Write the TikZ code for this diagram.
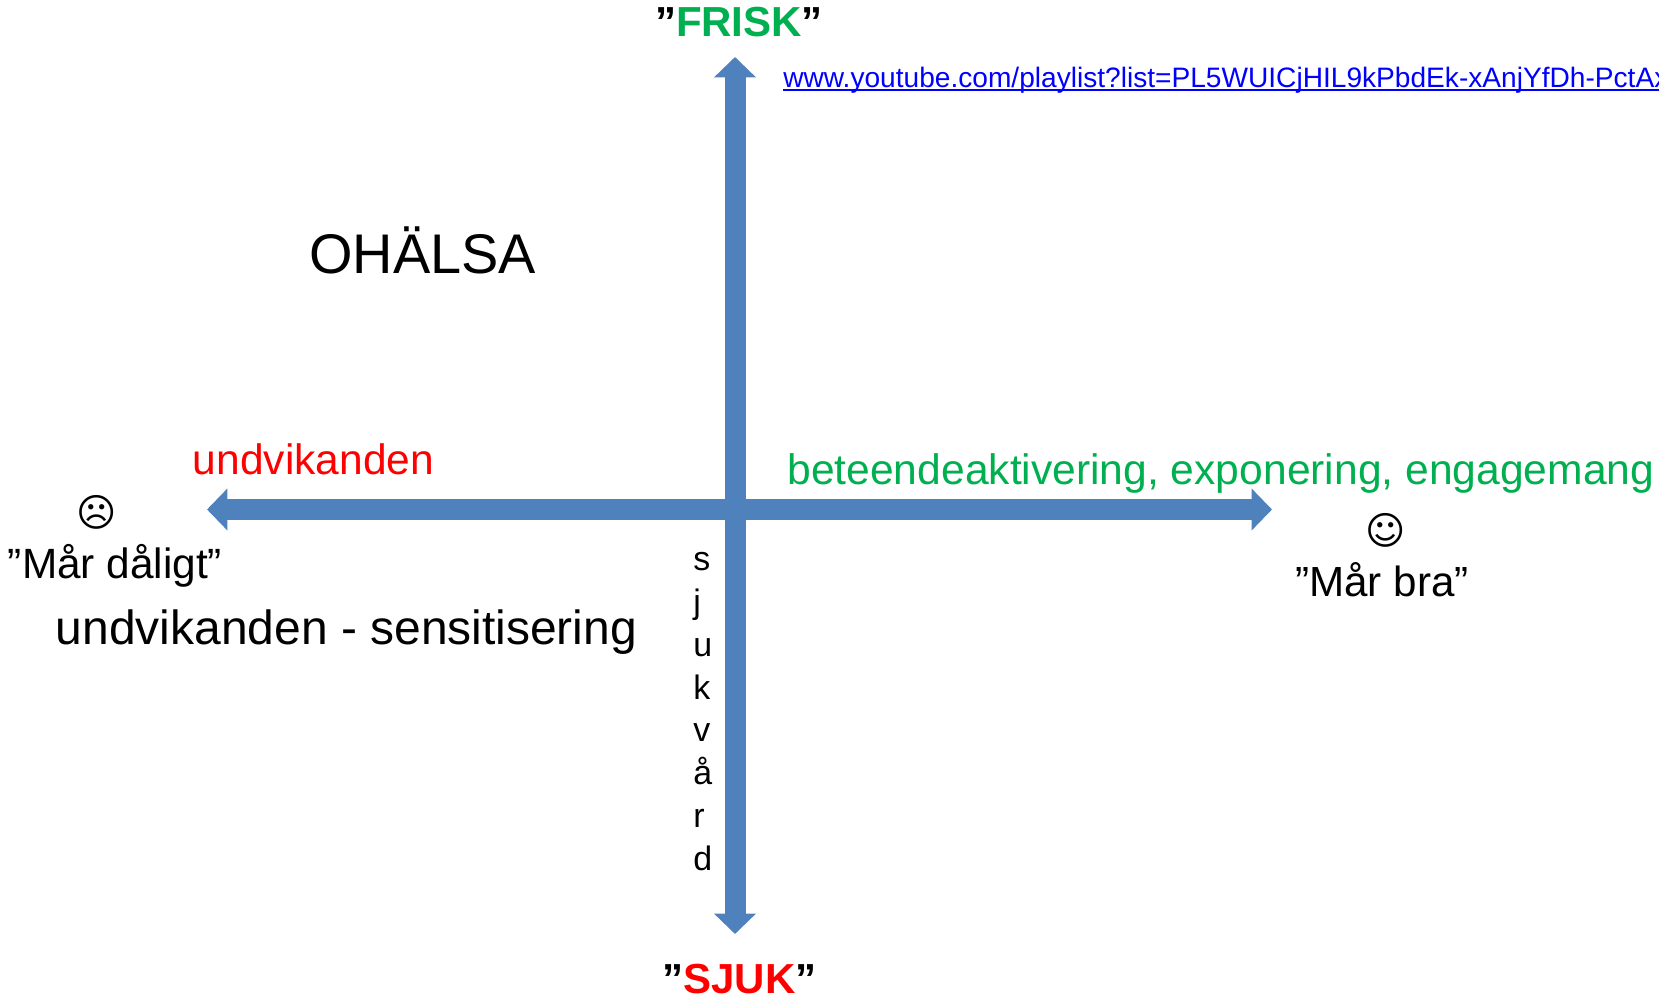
\documentclass[tikz,border=0pt]{standalone}
\usepackage{fontspec}
\setmainfont{Liberation Sans}
\newfontfamily\facefont{DejaVu Sans}
\usetikzlibrary{arrows.meta}
\definecolor{axisblue}{HTML}{4F81BD}
\definecolor{friskgreen}{HTML}{00B050}
\definecolor{linkblue}{HTML}{0000FF}
\tikzset{
  label text/.style={inner sep=0pt,anchor=base},
  axis arrow/.style={axisblue,line width=.42cm,{Triangle[length=.41cm,width=.82cm]}-{Triangle[length=.41cm,width=.82cm]}}
}

\begin{document}
\begin{tikzpicture}[x=.02cm,y=-.02cm]
\clip (0,0) rectangle (1659,999);
\useasboundingbox (0,0) rectangle (1659,999);

% axes
\coordinate (west) at (207,509.5);
\coordinate (east) at (1272,509.5);
\coordinate (north) at (735,57);
\coordinate (south) at (735,934);
\draw[axis arrow] (west)--(east);
\draw[axis arrow] (south)--(north);

% y-axis
\node[label text,font=\fontsize{23.9pt}{28pt}\bfseries] (frisk) at (739,37) {”\textcolor{friskgreen}{FRISK}”};
\node[label text,font=\fontsize{23.9pt}{28pt}\bfseries] (sjuk) at (739.5,993) {”\textcolor{red}{SJUK}”};
\node[label text,anchor=base west,linkblue,font=\fontsize{16pt}{19pt}\selectfont] (link) at (783,88) {www.youtube.com/playlist?list=PL5WUICjHIL9kPbdEk-xAnjYfDh-PctAx};
\draw[linkblue,line width=.04cm] ([yshift=-.05cm]link.base west)--([yshift=-.05cm]link.base east);
\node[label text,anchor=base west,align=left,font=\fontsize{19.3pt}{24.4pt}\selectfont] (vard) at (693,870.5) {s\\j\\u\\k\\v\\å\\r\\d};

% x-axis
\node[label text,anchor=base west,red,font=\fontsize{24.2pt}{28pt}\selectfont] (undvik) at (192.5,475) {undvikanden};
\node[label text,anchor=base west,friskgreen,font=\fontsize{24.25pt}{28pt}\selectfont] (beteende) at (787,485) {beteendeaktivering, exponering, engagemang};

% the faces
\node[label text,anchor=center,font=\fontsize{22pt}{28pt}\facefont] (sad) at (97,512) {☹};
\node[label text,font=\fontsize{24.1pt}{28pt}\selectfont] (daligt) at (115,579) {”Mår dåligt”};
\node[label text,anchor=center,font=\fontsize{22pt}{28pt}\facefont] (happy) at (1385.5,530) {☺};
\node[label text,font=\fontsize{24pt}{28pt}\selectfont] (bra) at (1382,597) {”Mår bra”};

% the rest
\node[label text,anchor=base west,font=\fontsize{31.8pt}{38pt}\selectfont] (ohalsa) at (309,274) {OHÄLSA};
\node[label text,anchor=base west,font=\fontsize{27.3pt}{32pt}\selectfont] (sens) at (55.5,644) {undvikanden - sensitisering};
\end{tikzpicture}
\end{document}
